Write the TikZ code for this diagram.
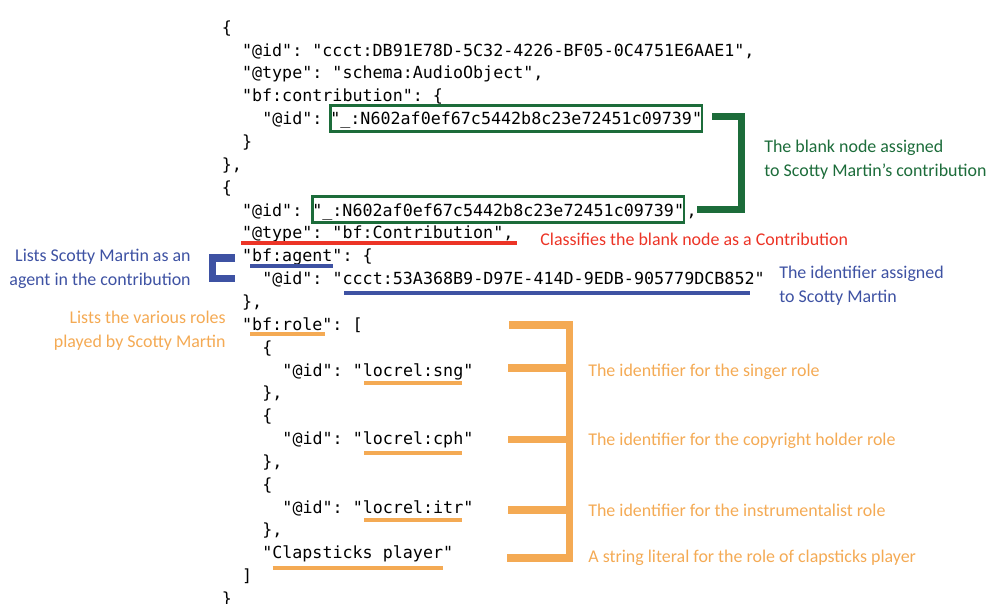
\documentclass[tikz,border=0pt]{standalone}
\usepackage{fontspec}
\setmainfont{Carlito}
\newfontfamily\codefont{DejaVu Sans Mono}
\usetikzlibrary{calc}

\definecolor{blankgreen}{RGB}{28,108,58}
\definecolor{typered}{RGB}{236,52,38}
\definecolor{agentblue}{RGB}{62,82,163}
\definecolor{roleorange}{RGB}{244,170,84}

\begin{document}
\begin{tikzpicture}[x=0.02cm, y=-0.02cm,
  code/.style={font=\codefont\fontsize{9.5}{11}\selectfont\frenchspacing, anchor=base west, inner sep=0pt},
  idbox/.style={code, draw=blankgreen, line width=1.5pt, inner xsep=0pt, inner ysep=1.4pt,
    text height=9.6pt, text depth=2.4pt},
  note/.style={font=\fontsize{10.2}{13.9}\selectfont, inner sep=0pt},
  uline/.style={line width=2pt},
  gbrace/.style={blankgreen, line width=4.2pt},
  abrace/.style={agentblue, line width=4pt},
  rbrace/.style={roleorange, line width=4.5pt}]
  \useasboundingbox (0,0) rectangle (988,603);

  % the json-ld listing, one node per line
  \node[code] (l0) at (221.5,33.2) {\{};
  \node[code] (l1) at (241.7,56.1) {"@id": "ccct:DB91E78D-5C32-4226-BF05-0C4751E6AAE1",};
  \node[code] (l2) at (241.7,78.9) {"@type": "schema:AudioObject",};
  \node[code] (l3) at (241.7,101.8) {"bf:contribution": \{};
  \node[code] (l4) at (261.9,124.6) {"@id": };
  \node[idbox] (blank1) at (329,124.6) {"\_:N602af0ef67c5442b8c23e72451c09739"};
  \node[code] (l5) at (241.7,147.5) {\}};
  \node[code] (l6) at (221.5,170.3) {\},};
  \node[code] (l7) at (221.5,193.2) {\{};
  \node[code] (l8) at (241.7,216) {"@id": };
  \node[idbox] (blank2) at (311,216) {"\_:N602af0ef67c5442b8c23e72451c09739"};
  \node[code] (l8b) at ([xshift=0.5pt]blank2.base east) {,};
  \node[code] (l9) at (241.7,238.9) {"@type": "bf:Contribution",};
  \node[code] (l10) at (241.7,261.7) {"bf:agent": \{};
  \node[code] (l11) at (261.9,284.6) {"@id": "ccct:53A368B9-D97E-414D-9EDB-905779DCB852"};
  \node[code] (l12) at (241.7,307.4) {\},};
  \node[code] (l13) at (241.7,330.3) {"bf:role": [};
  \node[code] (l14) at (261.9,353.1) {\{};
  \node[code] (l15) at (282.1,376) {"@id": "locrel:sng"};
  \node[code] (l16) at (261.9,398.8) {\},};
  \node[code] (l17) at (261.9,421.7) {\{};
  \node[code] (l18) at (282.1,444.5) {"@id": "locrel:cph"};
  \node[code] (l19) at (261.9,467.4) {\},};
  \node[code] (l20) at (261.9,490.2) {\{};
  \node[code] (l21) at (282.1,513.1) {"@id": "locrel:itr"};
  \node[code] (l22) at (261.9,535.9) {\},};
  \node[code] (l23) at (261.9,558.8) {"Clapsticks player"};
  \node[code] (l24) at (241.7,581.6) {]};
  \node[code] (l25) at (221.5,604.5) {\}};

  % notes
  \node[note, text=blankgreen, anchor=west, align=left] (blanknote) at (764,160)
    {The blank node assigned\\to Scotty Martin’s contribution};
  \node[note, text=typered, anchor=west] (typenote) at (540,239)
    {Classifies the blank node as a Contribution};
  \node[note, text=agentblue, anchor=west, align=left] (idnote) at (779,286)
    {The identifier assigned\\to Scotty Martin};
  \node[note, text=agentblue, anchor=east, align=right] (agentnote) at (191,269)
    {Lists Scotty Martin as an\\agent in the contribution};
  \node[note, text=roleorange, anchor=east, align=right] (rolenote) at (226,331)
    {Lists the various roles\\played by Scotty Martin};
  \node[note, text=roleorange, anchor=west] (sng) at (588,372) {The identifier for the singer role};
  \node[note, text=roleorange, anchor=west] (cph) at (588,441) {The identifier for the copyright holder role};
  \node[note, text=roleorange, anchor=west] (itr) at (588,510) {The identifier for the instrumentalist role};
  \node[note, text=roleorange, anchor=west] (clap) at (588,558) {A string literal for the role of clapsticks player};

  % blank node bracket
  \coordinate (gspine) at (741.5,0);
  \draw[gbrace] ($(blank1.east)+(9,-2)$) -| (gspine |- blank2.east) -- ($(blank2.east)+(12,0)$);

  % underlines
  \draw[uline, typered] (241,243) -- (517,243);
  \draw[uline, agentblue] (250,266) -- (333,266);
  \draw[uline, agentblue] (344,293) -- (750,293);
  \draw[uline, roleorange] (250,334) -- (325,334);
  \foreach \y in {383,453,520}
    \draw[uline, roleorange] (364,\y) -- (462,\y);
  \draw[uline, roleorange] (272.7,568) -- (443,568);

  % agent bracket
  \draw[abrace] (235,258) -- (212.5,258) -- (212.5,278.5) -- (235,278.5);

  % role bracket
  \coordinate (rspine) at (569.5,325);
  \draw[rbrace] (509,325) -| (rspine |- 0,558) -- (507,558);
  \foreach \y in {368,439.5,510}
    \draw[rbrace] (rspine |- 0,\y) -- (508,\y);
\end{tikzpicture}
\end{document}
